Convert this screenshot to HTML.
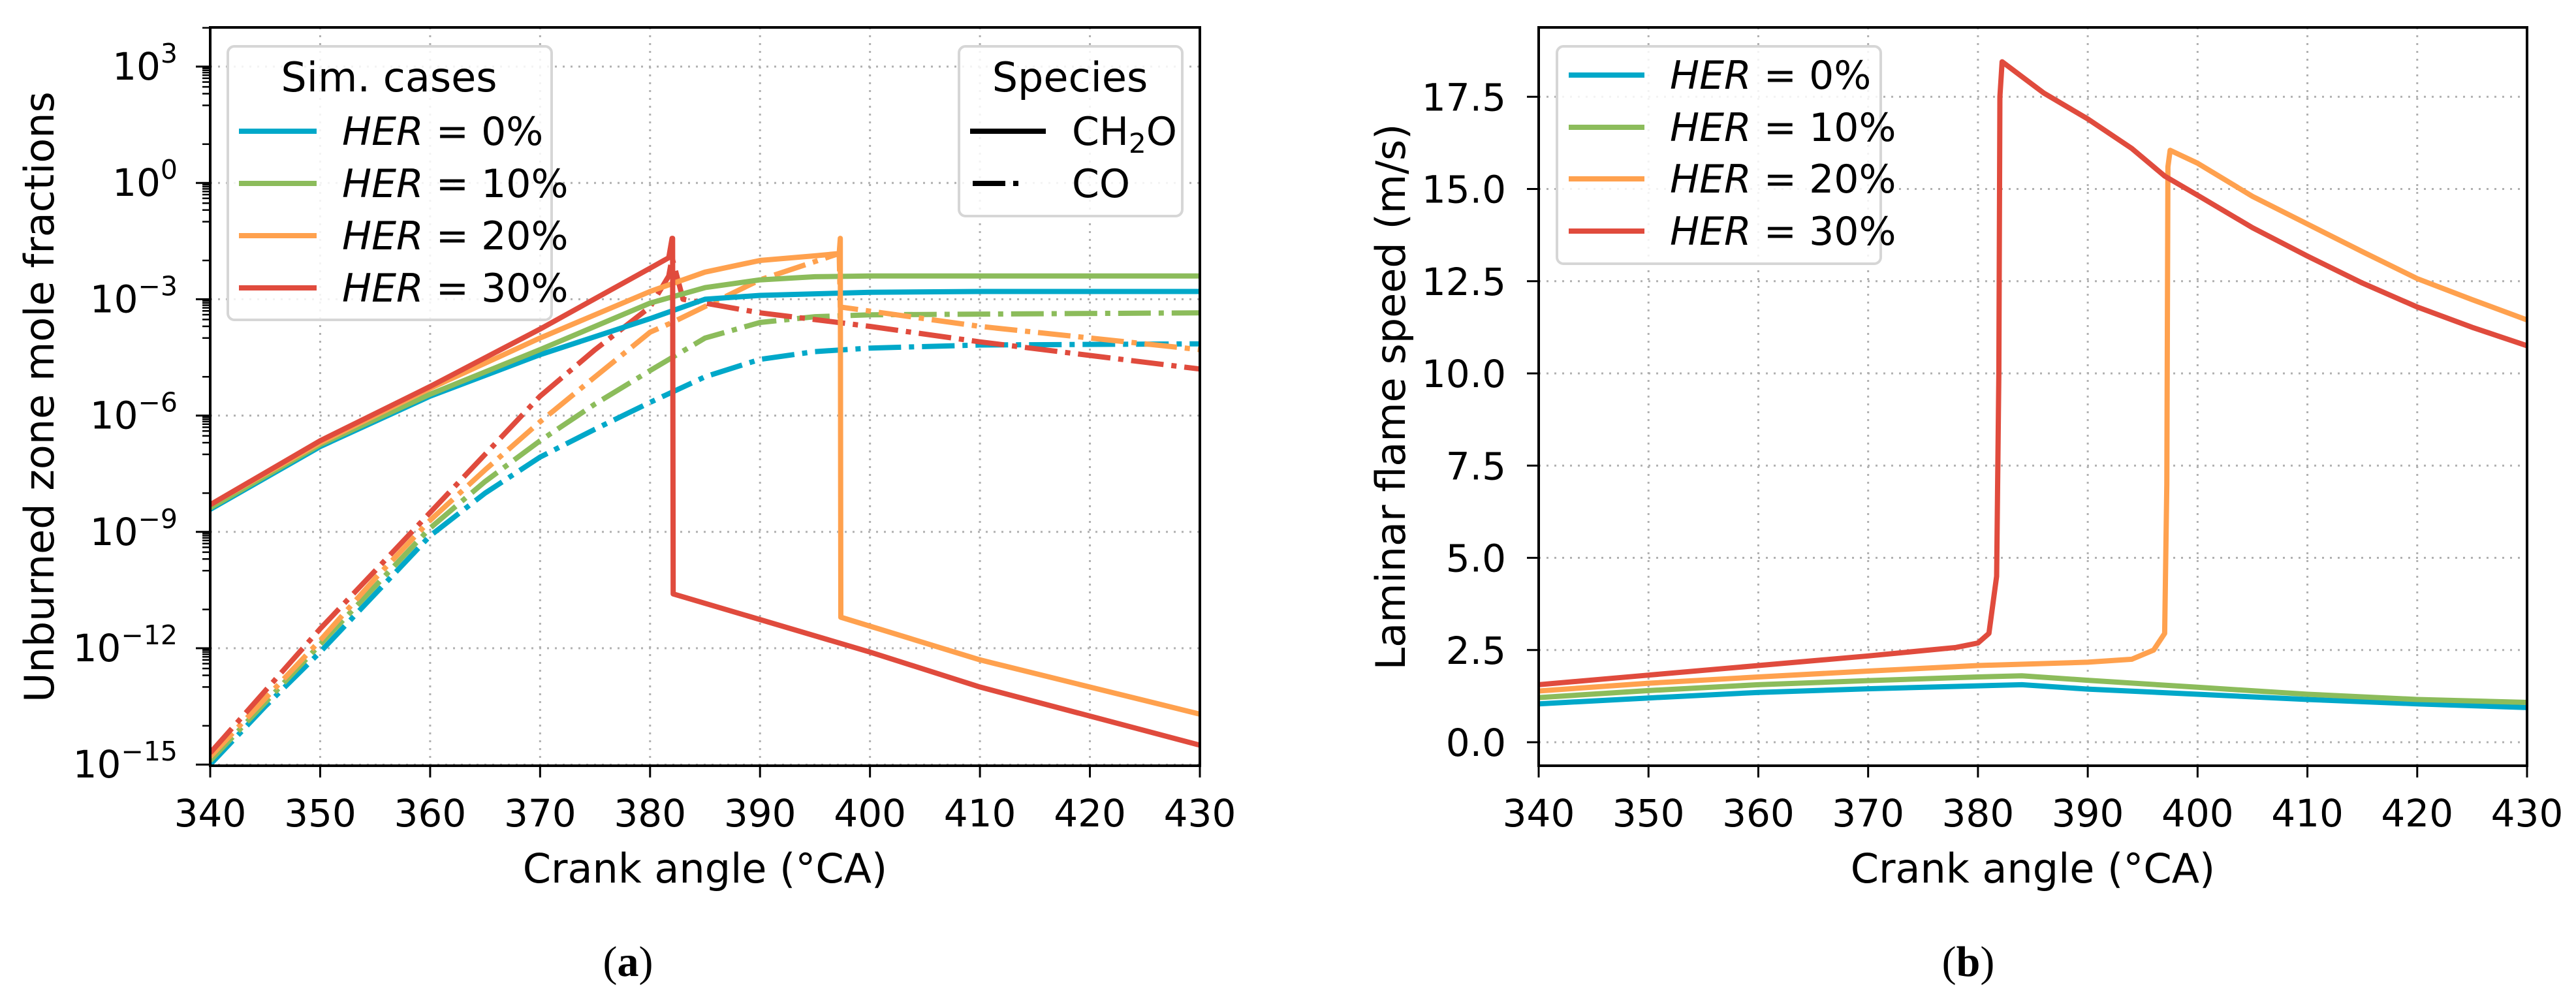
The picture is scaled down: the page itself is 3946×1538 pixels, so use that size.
<!DOCTYPE html>
<html><head><meta charset="utf-8"><style>
html,body{margin:0;padding:0;background:#fff;}
svg{display:block;font-family:"DejaVu Sans","Liberation Sans",sans-serif;}
</style></head><body>
<svg id="fig" width="3946" height="1538" viewBox="0 0 3946 1538" xmlns="http://www.w3.org/2000/svg">
<g id="A"></g>
<g id="B"></g>
</svg>
<script>
// ---- Panel (a) data: crank angle and log10 mole fraction ----
const aCH2O_x0 = [340,350,360,370,380,385,390,400,410,430];
const aCH2O_y0 = [-8.42,-6.8,-5.5,-4.43,-3.5,-3.0,-2.9,-2.82,-2.8,-2.8];
const aCH2O_x10 = [340,350,360,370,380,385,390,395,400,430];
const aCH2O_y10 = [-8.38,-6.75,-5.45,-4.3,-3.1,-2.7,-2.5,-2.42,-2.4,-2.4];
const aCH2O_x20 = [340,350,360,370,380,385,390,395,397.2,397.3,397.35,410,430];
const aCH2O_y20 = [-8.3,-6.7,-5.3,-4.0,-2.8,-2.3,-2.0,-1.88,-1.82,-1.43,-11.2,-12.3,-13.7];
const aCH2O_x30 = [340,350,360,370,380,381.7,382.0,382.05,382.1,400,410,430];
const aCH2O_y30 = [-8.3,-6.65,-5.25,-3.77,-2.2,-1.93,-1.43,-1.43,-10.6,-12.1,-13.0,-14.5];
const aCO_x0 = [340,345,350,355,360,365,370,375,380,385,390,395,400,410,430];
const aCO_y0 = [-15.0,-13.5,-12.1,-10.6,-9.1,-8.0,-7.07,-6.35,-5.66,-5.0,-4.55,-4.35,-4.26,-4.18,-4.15];
const aCO_x10 = [340,345,350,355,360,365,370,375,380,385,390,395,400,430];
const aCO_y10 = [-14.9,-13.4,-11.9,-10.4,-8.9,-7.7,-6.65,-5.7,-4.84,-4.0,-3.6,-3.45,-3.4,-3.35];
const aCO_x20 = [340,345,350,355,360,365,370,375,380,382,390,397.2,397.3,410,430];
const aCO_y20 = [-14.8,-13.3,-11.8,-10.2,-8.7,-7.4,-6.16,-5.0,-3.85,-3.6,-2.5,-1.82,-3.2,-3.7,-4.3];
const aCO_x30 = [340,345,350,355,360,365,370,375,380,381.7,382.0,383,390,400,410,430];
const aCO_y30 = [-14.7,-13.1,-11.5,-10.0,-8.5,-7.0,-5.5,-4.3,-3.2,-2.4,-1.93,-3.0,-3.35,-3.7,-4.1,-4.8];
const aYTickExp = [3,0,-3,-6,-9,-12,-15];
const xTicks = [340,350,360,370,380,390,400,410,420,430];
// ---- Panel (b) data: laminar flame speed ----
const bX0 = [340,350,360,370,380,384,390,400,410,420,430];
const bY0 = [1.04,1.2,1.35,1.45,1.53,1.56,1.44,1.3,1.16,1.04,0.94];
const bX10 = [340,350,360,370,380,384,390,400,410,420,430];
const bY10 = [1.21,1.4,1.56,1.67,1.77,1.8,1.68,1.49,1.3,1.16,1.08];
const bX20 = [340,350,360,370,380,390,394,396,397,397.2,397.3,397.5,400,405,410,415,420,425,430];
const bY20 = [1.39,1.6,1.77,1.93,2.08,2.17,2.25,2.5,2.95,7.0,15.6,16.05,15.7,14.8,14.05,13.3,12.57,12.0,11.45];
const bX30 = [340,350,360,370,378,380,381,381.7,381.9,382,382.2,386,390,394,397,400,405,410,415,420,425,430];
const bY30 = [1.56,1.82,2.08,2.34,2.57,2.69,2.95,4.5,10.0,17.5,18.45,17.6,16.9,16.1,15.35,14.83,13.95,13.18,12.45,11.8,11.25,10.75];
const bYTicks = [0,2.5,5,7.5,10,12.5,15,17.5];
const bYTickLabels = ["0.0","2.5","5.0","7.5","10.0","12.5","15.0","17.5"];
const herLabels = ["0%","10%","20%","30%"];
const colors = ["#00a8c9","#8cbc5b","#ffa14e","#e04b3d"];

const NS="http://www.w3.org/2000/svg";
function mk(parent,tag,attrs,text){const e=document.createElementNS(NS,tag);for(const k in attrs)e.setAttribute(k,attrs[k]);if(text!==undefined)e.textContent=text;parent.appendChild(e);return e;}
const TF=58, LF=62, GF=60;

// ---------- Panel A ----------
const A=document.getElementById('A');
const aL=322,aR=1838,aT=42,aB=1173;
const ax=v=>aL+(v-340)*(aR-aL)/90;
const ayL=L=>102+(3-L)*59.4;
xTicks.forEach(t=>{const g=mk(A,'line',{x1:ax(t),x2:ax(t),y1:aT,y2:aB,stroke:'#b0b0b0','stroke-width':3,'stroke-dasharray':'3 9'});
});
aYTickExp.forEach(e=>{const g=mk(A,'line',{x1:aL,x2:aR,y1:ayL(e),y2:ayL(e),stroke:'#b0b0b0','stroke-width':3,'stroke-dasharray':'3 9'});
});
function poly(parent,xs,ys,fx,fy,color,dash,name){
 const pts=xs.map((x,i)=>fx(x).toFixed(1)+','+fy(ys[i]).toFixed(1)).join(' ');
 const p=mk(parent,'polyline',{points:pts,fill:'none',stroke:color,'stroke-width':8,'stroke-linejoin':'round','stroke-linecap':dash?'butt':'square'});
 if(dash)p.setAttribute('stroke-dasharray',dash);
 
}
const clipA=mk(A,'clipPath',{id:'clipA'});mk(clipA,'rect',{x:aL,y:aT,width:aR-aL,height:aB-aT});
const sA=mk(A,'g',{'clip-path':'url(#clipA)'});
const coX=[aCO_x0,aCO_x10,aCO_x20,aCO_x30],coY=[aCO_y0,aCO_y10,aCO_y20,aCO_y30];
const chX=[aCH2O_x0,aCH2O_x10,aCH2O_x20,aCH2O_x30],chY=[aCH2O_y0,aCH2O_y10,aCH2O_y20,aCH2O_y30];
for(let i=0;i<4;i++){poly(sA,coX[i],coY[i],ax,ayL,colors[i],'50 12 8 12','co-line-her-'+herLabels[i].replace('%',''));}
for(let i=0;i<4;i++){poly(sA,chX[i],chY[i],ax,ayL,colors[i],null,'ch2o-line-her-'+herLabels[i].replace('%',''));}
aYTickExp.forEach(e=>{for(let k=2;k<=9;k++){const L=e-1+Math.log10(k);if(L>=-15){const t=mk(A,'line',{x1:aL-12,x2:aL,y1:ayL(L),y2:ayL(L),stroke:'#000','stroke-width':2.5});
}}});
for(let e=-15;e<=4;e++){const t=mk(A,'line',{x1:aL-12,x2:aL,y1:ayL(e),y2:ayL(e),stroke:'#000','stroke-width':2.5});
}
const fa=mk(A,'rect',{x:aL,y:aT,width:aR-aL,height:aB-aT,fill:'none',stroke:'#000','stroke-width':4});

xTicks.forEach(t=>{mk(A,'line',{x1:ax(t),x2:ax(t),y1:aB,y2:aB+18,stroke:'#000','stroke-width':3});
const l=mk(A,'text',{x:ax(t),y:1266,'font-size':TF,'text-anchor':'middle'},String(t));
});
aYTickExp.forEach(e=>{mk(A,'line',{x1:aL-22,x2:aL,y1:ayL(e),y2:ayL(e),stroke:'#000','stroke-width':3});
const l=mk(A,'text',{x:272,y:ayL(e)+20,'font-size':TF,'text-anchor':'end'});

mk(l,'tspan',{},'10');mk(l,'tspan',{dy:-26,'font-size':41},e<0?'\u2212'+(-e):String(e));});
let t=mk(A,'text',{x:ax(385),y:1352,'font-size':LF,'text-anchor':'middle'},'Crank angle (°CA)');

t=mk(A,'text',{x:0,y:0,'font-size':LF,'text-anchor':'middle',transform:'translate(82,608) rotate(-90)'},'Unburned zone mole fractions');

t=mk(A,'text',{x:962,y:1495,'font-size':66,'text-anchor':'middle','font-family':'Liberation Serif, serif'},'(');

mk(t,'tspan',{'font-weight':'bold'},'a');mk(t,'tspan',{},')');
function legendBox(parent,x,y,w,h,name){const r=mk(parent,'rect',{x:x,y:y,width:w,height:h,rx:10,fill:'#fff','fill-opacity':0.85,stroke:'#d6d6d6','stroke-width':4});
}
legendBox(A,349,71,496,419,'legend-sim-cases');
t=mk(A,'text',{x:596,y:140,'font-size':LF,'text-anchor':'middle'},'Sim. cases');

[201,281,361,441].forEach((yy,i)=>{mk(A,'line',{x1:366,x2:485,y1:yy,y2:yy,stroke:colors[i],'stroke-width':8});
const e=mk(A,'text',{x:524,y:yy+21,'font-size':GF});

mk(e,'tspan',{'font-style':'italic'},'HER');mk(e,'tspan',{},' = '+herLabels[i]);});
legendBox(A,1469,71,342,260,'legend-species');
t=mk(A,'text',{x:1639,y:140,'font-size':LF,'text-anchor':'middle'},'Species');

mk(A,'line',{x1:1486,x2:1602,y1:201,y2:201,stroke:'#000','stroke-width':8});
t=mk(A,'text',{x:1642,y:222,'font-size':GF});
mk(t,'tspan',{},'CH');mk(t,'tspan',{dy:12,'font-size':42},'2');mk(t,'tspan',{dy:-12},'O');
mk(A,'line',{x1:1490,x2:1602,y1:281,y2:281,stroke:'#000','stroke-width':8,'stroke-dasharray':'50 12 8 60'});
t=mk(A,'text',{x:1642,y:302,'font-size':GF},'CO');

// ---------- Panel B ----------
const B=document.getElementById('B');
const bL=2357,bR=3871,bT=42,bB=1173;
const bx=v=>bL+(v-340)*(bR-bL)/90;
const by=v=>1137-v*56.5;
xTicks.forEach(tk=>{const g=mk(B,'line',{x1:bx(tk),x2:bx(tk),y1:bT,y2:bB,stroke:'#b0b0b0','stroke-width':3,'stroke-dasharray':'3 9'});
});
bYTicks.forEach(v=>{const g=mk(B,'line',{x1:bL,x2:bR,y1:by(v),y2:by(v),stroke:'#b0b0b0','stroke-width':3,'stroke-dasharray':'3 9'});
});
const clipB=mk(B,'clipPath',{id:'clipB'});mk(clipB,'rect',{x:bL,y:bT,width:bR-bL,height:bB-bT});
const sB=mk(B,'g',{'clip-path':'url(#clipB)'});
const bXs=[bX0,bX10,bX20,bX30],bYs=[bY0,bY10,bY20,bY30];
for(let i=0;i<4;i++)poly(sB,bXs[i],bYs[i],bx,by,colors[i],null,'flame-speed-line-her-'+herLabels[i].replace('%',''));
const fb=mk(B,'rect',{x:bL,y:bT,width:bR-bL,height:bB-bT,fill:'none',stroke:'#000','stroke-width':4});

xTicks.forEach(tk=>{mk(B,'line',{x1:bx(tk),x2:bx(tk),y1:bB,y2:bB+18,stroke:'#000','stroke-width':3});
const l=mk(B,'text',{x:bx(tk),y:1266,'font-size':TF,'text-anchor':'middle'},String(tk));
});
bYTicks.forEach((v,i)=>{mk(B,'line',{x1:bL-18,x2:bL,y1:by(v),y2:by(v),stroke:'#000','stroke-width':3});
const l=mk(B,'text',{x:2307,y:by(v)+21,'font-size':TF,'text-anchor':'end'},bYTickLabels[i]);
});
t=mk(B,'text',{x:bx(385),y:1352,'font-size':LF,'text-anchor':'middle'},'Crank angle (°CA)');

t=mk(B,'text',{x:0,y:0,'font-size':LF,'text-anchor':'middle',transform:'translate(2152,608) rotate(-90)'},'Laminar flame speed (m/s)');

t=mk(B,'text',{x:3015,y:1495,'font-size':66,'text-anchor':'middle','font-family':'Liberation Serif, serif'},'(');

mk(t,'tspan',{'font-weight':'bold'},'b');mk(t,'tspan',{},')');
legendBox(B,2385,71,496,333,'legend-her-b');
[115,195,274,354].forEach((yy,i)=>{mk(B,'line',{x1:2403,x2:2519,y1:yy,y2:yy,stroke:colors[i],'stroke-width':8});
const e=mk(B,'text',{x:2558,y:yy+21,'font-size':GF});

mk(e,'tspan',{'font-style':'italic'},'HER');mk(e,'tspan',{},' = '+herLabels[i]);});
</script>
</body></html>
